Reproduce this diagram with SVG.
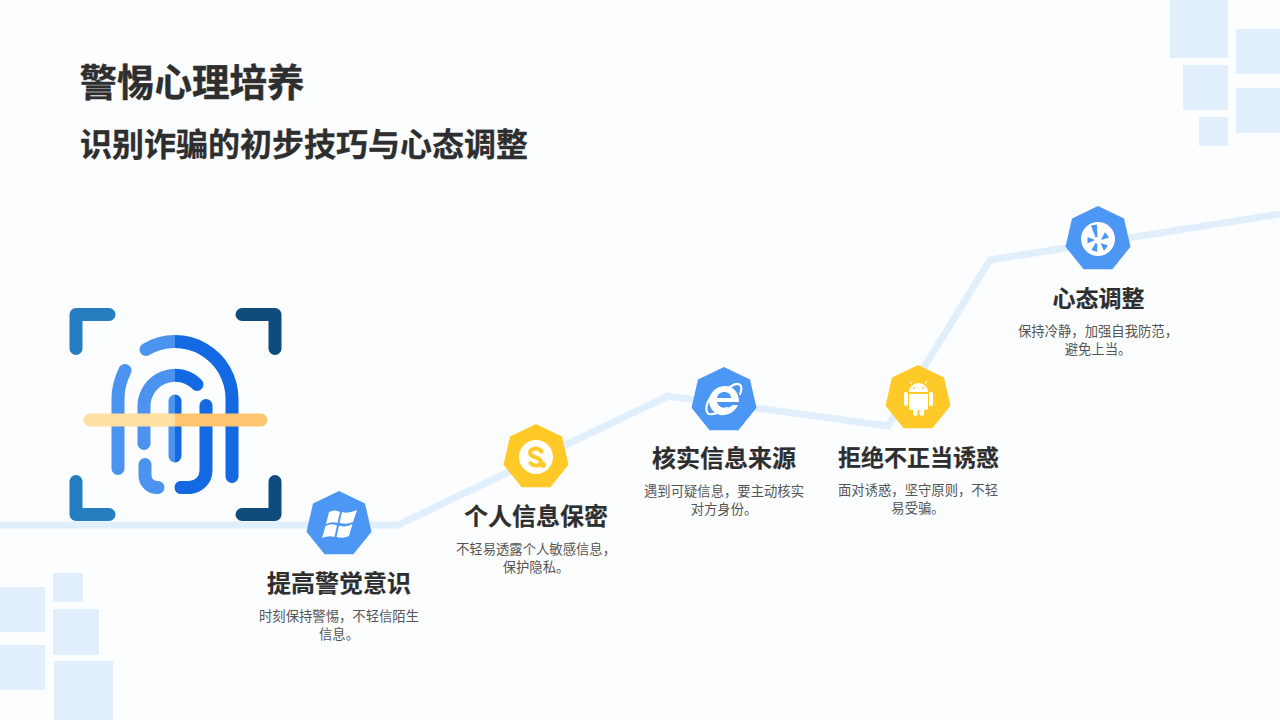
<svg xmlns="http://www.w3.org/2000/svg" xmlns:xlink="http://www.w3.org/1999/xlink" width="1280" height="720" viewBox="0 0 1280 720">
<style>
text{font-family:"Noto Sans CJK SC","Noto Sans",sans-serif;text-anchor:middle}
.h1{font-size:37.500px;font-weight:700;fill:#2e2e2e;text-anchor:start;stroke:#2e2e2e;stroke-width:.4}
.h2{font-size:32px;font-weight:700;fill:#2e2e2e;text-anchor:start;stroke:#2e2e2e;stroke-width:.3}
.t{font-size:24px;font-weight:700;fill:#2e2e2e;stroke:#2e2e2e;stroke-width:.2}
.t2{font-size:23px;font-weight:700;fill:#2e2e2e;stroke:#2e2e2e;stroke-width:.2}
.d{font-size:13.330px;fill:#555}
.deco{fill:#e1eefc}
.blue{fill:#4c96f4}
.yellow{fill:#ffca28}
.w{fill:#fff}
.fl{fill:none;stroke:#4c93f0;stroke-width:13;stroke-linecap:round;stroke-linejoin:round}
.fr{fill:none;stroke:#1369e2;stroke-width:13;stroke-linecap:round;stroke-linejoin:round}
.bl{fill:none;stroke:#257ebf;stroke-width:13;stroke-linecap:round;stroke-linejoin:round}
.br{fill:none;stroke:#0f4c7c;stroke-width:13;stroke-linecap:round;stroke-linejoin:round}
</style>
<defs>
<polygon id="hept" points="0,-33.300 26,-20.800 32.500,7.400 14.400,30 -14.400,30 -32.500,7.400 -26,-20.800"/>
<clipPath id="leftHalf"><rect x="60" y="300" width="115" height="230"/></clipPath>
<clipPath id="rightHalf"><rect x="175" y="300" width="115" height="230"/></clipPath>
<path id="fp" d="M146,349A57,57 0 0 1 232,398V476M125,370Q118,384 118,398V468M197,384A31,31 0 0 0 144,405V443M145,464V475A12,12 0 0 0 158,487M206,405V470A17,17 0 0 1 189,487H158M175,400.500V455.500"/>
</defs>
<rect width="1280" height="720" fill="#fbfdff"/>
<g id="decor">
<rect class="deco" x="1170" y="0" width="58" height="58"/>
<rect class="deco" x="1236" y="29" width="44" height="45"/>
<rect class="deco" x="1183" y="65" width="45" height="45"/>
<rect class="deco" x="1236" y="88" width="44" height="45"/>
<rect class="deco" x="1199" y="117" width="29" height="29"/>
<rect class="deco" x="0" y="587" width="45" height="45"/>
<rect class="deco" x="0" y="645" width="45" height="45"/>
<rect class="deco" x="53" y="573" width="30" height="29"/>
<rect class="deco" x="53" y="609" width="46" height="46"/>
<rect class="deco" x="54" y="661" width="59" height="59"/>
</g>
<g id="connectors">
<polyline points="0,525 398,525 668,396 888,426 990,260 1280,214" fill="none" stroke="#e1eefc" stroke-width="7"/>
</g>
<g id="title">
<text class="h1" x="79.500" y="96">警惕心理培养</text>
<text class="h2" x="80" y="156">识别诈骗的初步技巧与心态调整</text>
</g>
<g id="fingerprint" transform="translate(0,.5)">
<path class="bl" d="M76,348V314H109M76,481V514H109"/>
<path class="br" d="M242,314H275V348M242,514H275V481"/>
<g clip-path="url(#leftHalf)">
<path class="fl" d="M146,349A57,57 0 0 1 232,398M125,370Q118,384 118,398V468M197,384A31,31 0 0 0 144,405V443M145,464V475A12,12 0 0 0 158,487M175,400.500V455.500"/>
</g>
<g clip-path="url(#rightHalf)">
<path class="fr" d="M146,349A57,57 0 0 1 232,398V476M197,384A31,31 0 0 0 144,405M206,405V470A17,17 0 0 1 189,487H181M175,400.500V455.500"/>
</g>
<path class="fr" d="M181,487H189"/>
<path d="M175,413H90A6.500,6.500 0 0 0 90,426H175Z" fill="#ffdfa3"/>
<path d="M175,413H261A6.500,6.500 0 0 1 261,426H175Z" fill="#ffc470"/>
</g>
<g id="node1">
<use xlink:href="#hept" href="#hept" x="339" y="524.300" class="blue"/>
<path class="w" d="M329,512Q335,509 340,512L337.500,523Q332,521 326,524ZM342,512Q348,514 357,510L353,522Q347,525 339.500,523ZM325.500,526Q331,523 337,525.500L334.500,537Q329,535 322,538ZM339,525.500Q346,528 352.500,524L349,536Q343,539 336.500,537Z"/>
<text class="t" x="339" y="592">提高警觉意识</text>
<text class="d" x="339" y="621">时刻保持警惕，不轻信陌生</text>
<text class="d" x="339" y="639">信息。</text>
</g>
<g id="node2">
<use xlink:href="#hept" href="#hept" x="536" y="457.300" class="yellow"/>
<circle class="w" cx="536" cy="457" r="17"/>
<path d="M541.500,451.500C538,447 530,448 530,453C530,458 541,456.500 541,462C541,466 534,467 530.500,463" fill="none" stroke="#ffca28" stroke-width="4" stroke-linecap="round"/>
<circle cx="543" cy="465" r="3" fill="#ffca28"/>
<text class="t" x="536" y="525">个人信息保密</text>
<text class="d" x="536" y="554">不轻易透露个人敏感信息，</text>
<text class="d" x="536" y="572">保护隐私。</text>
</g>
<g id="node3">
<use xlink:href="#hept" href="#hept" x="724" y="400.300" class="blue"/>
<path class="w" d="M725,386C733,386 739,392 739,402H717C718,408 727,410 733,405H738C734,413 727,416 720,415C713,413 709,407 709,400C710,392 717,386 725,386ZM717,398H731C731,390 718,390 717,398Z"/>
<path d="M730,387C738,381 744,384 740,394M712,396C704,405 705,416 712,414C717,414 722,411 727,408" fill="none" stroke="#fff" stroke-width="2.200" stroke-linecap="round"/>
<text class="t" x="724" y="467">核实信息来源</text>
<text class="d" x="724" y="496">遇到可疑信息，要主动核实</text>
<text class="d" x="724" y="514">对方身份。</text>
</g>
<g id="node4">
<use xlink:href="#hept" href="#hept" x="918" y="398.300" class="yellow"/>
<path class="w" d="M909,392A9.500,9 0 0 1 928,392Z"/>
<path class="w" d="M909,394H928V408Q928,410 925,410H924V414.500A2.500,2.500 0 0 1 919.500,414.500V410H917.500V414.500A2.500,2.500 0 0 1 913,414.500V410H912Q909,410 909,408Z"/>
<rect class="w" x="904" y="392" width="4" height="14" rx="2"/>
<rect class="w" x="929" y="392" width="4" height="14" rx="2"/>
<path d="M912,384L910,381M925,384L927,381" stroke="#fff" stroke-width="1"/>
<circle cx="914" cy="388" r="1" fill="#ffca28"/>
<circle cx="923" cy="388" r="1" fill="#ffca28"/>
<text class="t2" x="918.500" y="466">拒绝不正当诱惑</text>
<text class="d" x="918" y="495">面对诱惑，坚守原则，不轻</text>
<text class="d" x="918" y="513">易受骗。</text>
</g>
<g id="node5">
<use xlink:href="#hept" href="#hept" x="1098" y="239.300" class="blue"/>
<circle class="w" cx="1098" cy="239" r="17"/>
<path class="blue" d="M1091,225.500L1097,224.500L1097.500,237L1095.500,237.500ZM1087.500,237L1095,240L1087.500,243.500ZM1105,232L1109,237.500L1101,240ZM1095.500,243L1097.500,244L1097,252L1091.500,250ZM1100.500,243L1108,245.500L1104,251Z"/>
<text class="t2" x="1098.500" y="307">心态调整</text>
<text class="d" x="1098" y="336">保持冷静，加强自我防范，</text>
<text class="d" x="1098" y="354">避免上当。</text>
</g>
</svg>
